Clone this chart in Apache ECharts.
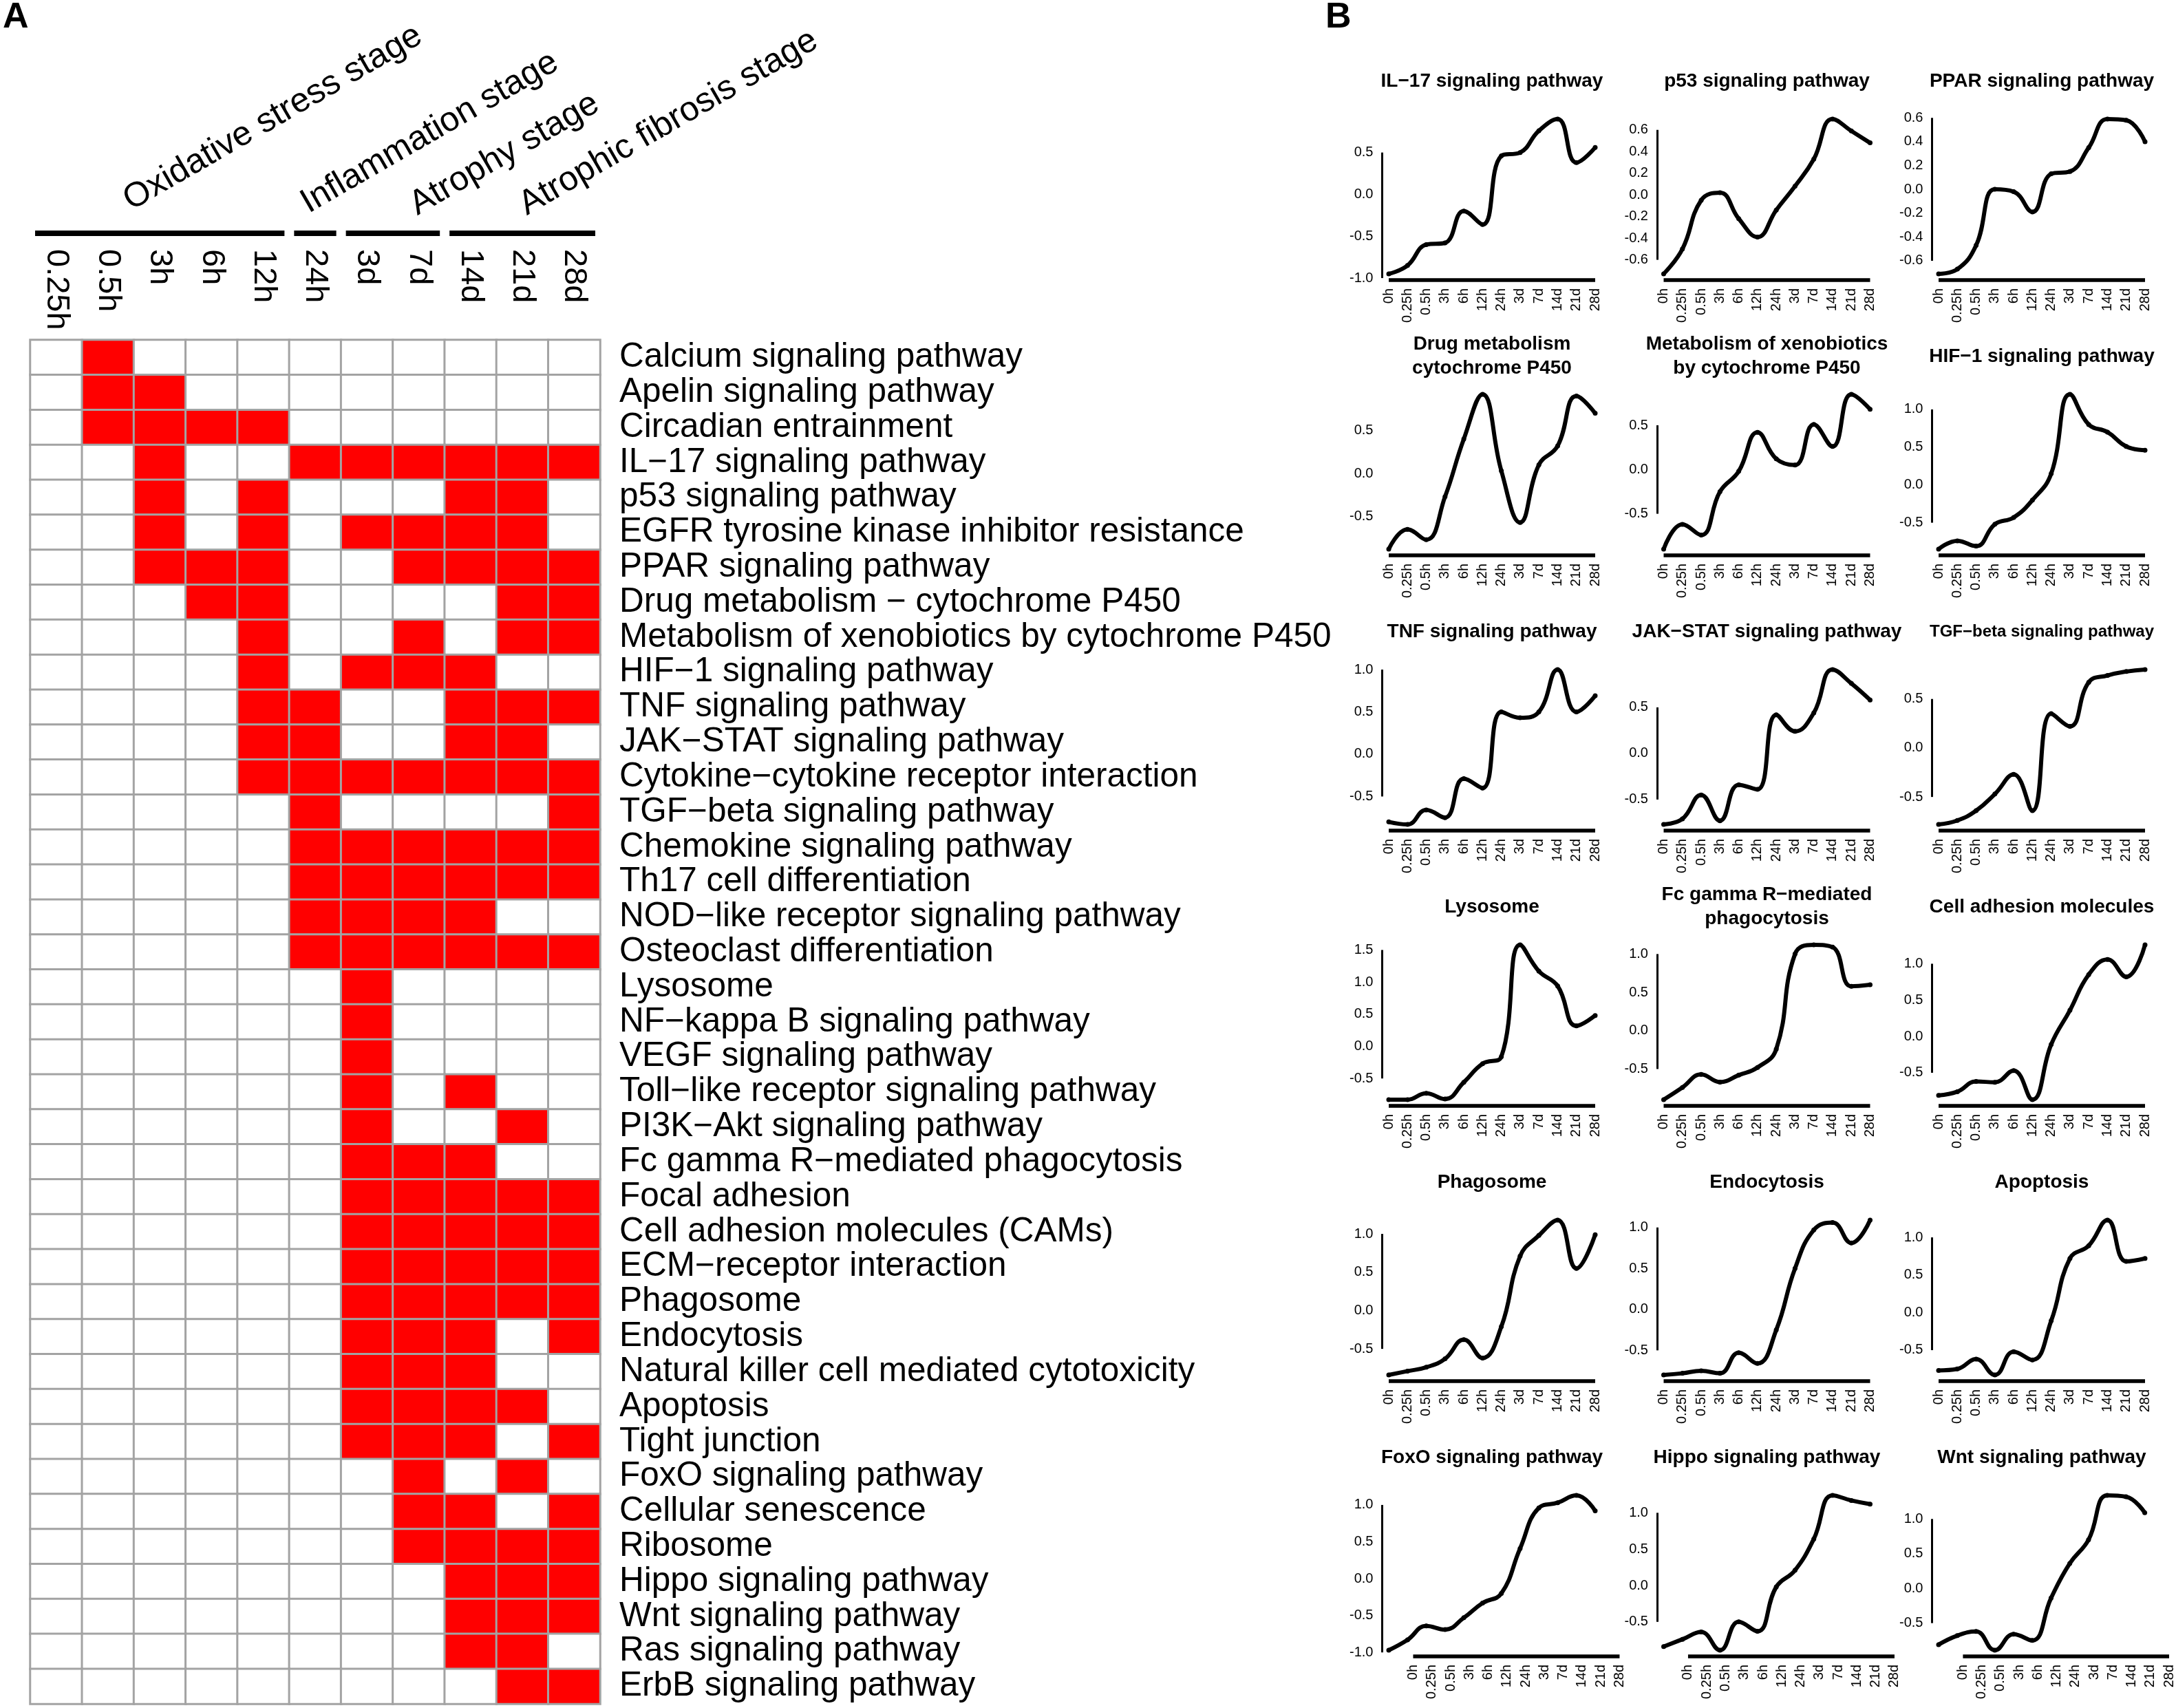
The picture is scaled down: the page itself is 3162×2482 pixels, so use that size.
<!DOCTYPE html>
<html>
<head>
<meta charset="utf-8">
<script src="https://cdn.jsdelivr.net/npm/echarts@6/dist/echarts.min.js"></script>
<style>
html,body{margin:0;padding:0;background:#ffffff;}
#main{width:3162px;height:2482px;}
</style>
</head>
<body>
<div id="main"></div>
<script>
// ---------------- DATA ----------------
// Panel A: heatmap columns (time points) and pathway rows
const timeCols = ['0.25h','0.5h','3h','6h','12h','24h','3d','7d','14d','21d','28d'];
const pathways = [
  'Calcium signaling pathway','Apelin signaling pathway','Circadian entrainment',
  'IL\u221217 signaling pathway','p53 signaling pathway','EGFR tyrosine kinase inhibitor resistance',
  'PPAR signaling pathway','Drug metabolism \u2212 cytochrome P450','Metabolism of xenobiotics by cytochrome P450',
  'HIF\u22121 signaling pathway','TNF signaling pathway','JAK\u2212STAT signaling pathway',
  'Cytokine\u2212cytokine receptor interaction','TGF\u2212beta signaling pathway','Chemokine signaling pathway',
  'Th17 cell differentiation','NOD\u2212like receptor signaling pathway','Osteoclast differentiation',
  'Lysosome','NF\u2212kappa B signaling pathway','VEGF signaling pathway',
  'Toll\u2212like receptor signaling pathway','PI3K\u2212Akt signaling pathway','Fc gamma R\u2212mediated phagocytosis',
  'Focal adhesion','Cell adhesion molecules (CAMs)','ECM\u2212receptor interaction',
  'Phagosome','Endocytosis','Natural killer cell mediated cytotoxicity',
  'Apoptosis','Tight junction','FoxO signaling pathway',
  'Cellular senescence','Ribosome','Hippo signaling pathway',
  'Wnt signaling pathway','Ras signaling pathway','ErbB signaling pathway'
];
// 1 = enriched (red), 0 = not enriched; one row per pathway, columns follow timeCols
const heatRows = [
  [0,1,0,0,0,0,0,0,0,0,0],
  [0,1,1,0,0,0,0,0,0,0,0],
  [0,1,1,1,1,0,0,0,0,0,0],
  [0,0,1,0,0,1,1,1,1,1,1],
  [0,0,1,0,1,0,0,0,1,1,0],
  [0,0,1,0,1,0,1,1,1,1,0],
  [0,0,1,1,1,0,0,1,1,1,1],
  [0,0,0,1,1,0,0,0,0,1,1],
  [0,0,0,0,1,0,0,1,0,1,1],
  [0,0,0,0,1,0,1,1,1,0,0],
  [0,0,0,0,1,1,0,0,1,1,1],
  [0,0,0,0,1,1,0,0,1,1,0],
  [0,0,0,0,1,1,1,1,1,1,1],
  [0,0,0,0,0,1,0,0,0,0,1],
  [0,0,0,0,0,1,1,1,1,1,1],
  [0,0,0,0,0,1,1,1,1,1,1],
  [0,0,0,0,0,1,1,1,1,0,0],
  [0,0,0,0,0,1,1,1,1,1,1],
  [0,0,0,0,0,0,1,0,0,0,0],
  [0,0,0,0,0,0,1,0,0,0,0],
  [0,0,0,0,0,0,1,0,0,0,0],
  [0,0,0,0,0,0,1,0,1,0,0],
  [0,0,0,0,0,0,1,0,0,1,0],
  [0,0,0,0,0,0,1,1,1,0,0],
  [0,0,0,0,0,0,1,1,1,1,1],
  [0,0,0,0,0,0,1,1,1,1,1],
  [0,0,0,0,0,0,1,1,1,1,1],
  [0,0,0,0,0,0,1,1,1,1,1],
  [0,0,0,0,0,0,1,1,1,0,1],
  [0,0,0,0,0,0,1,1,1,0,0],
  [0,0,0,0,0,0,1,1,1,1,0],
  [0,0,0,0,0,0,1,1,1,0,1],
  [0,0,0,0,0,0,0,1,0,1,0],
  [0,0,0,0,0,0,0,1,1,0,1],
  [0,0,0,0,0,0,0,1,1,1,1],
  [0,0,0,0,0,0,0,0,1,1,1],
  [0,0,0,0,0,0,0,0,1,1,1],
  [0,0,0,0,0,0,0,0,1,1,0],
  [0,0,0,0,0,0,0,0,0,1,1]
];
const stageNames = ['Oxidative stress stage','Inflammation stage','Atrophy stage','Atrophic fibrosis stage'];
const stageFirstCol = [0, 5, 6, 8];
const stageLastCol  = [4, 5, 7, 10];

// Panel B: expression trends
const timeLabels = ['0h','0.25h','0.5h','3h','6h','12h','24h','3d','7d','14d','21d','28d'];
const il17  = [-0.95,-0.85,-0.60,-0.58,-0.20,-0.36, 0.46, 0.50, 0.76, 0.90, 0.38, 0.56];
const p53   = [-0.73,-0.50,-0.05, 0.02,-0.22,-0.39,-0.14, 0.08, 0.33, 0.70, 0.59, 0.48];
const ppar  = [-0.71,-0.67,-0.47, 0.00,-0.02,-0.19, 0.13, 0.15, 0.35, 0.59, 0.58, 0.40];
const drug  = [-0.88,-0.65,-0.77,-0.27, 0.40, 0.92, 0.03,-0.57, 0.10, 0.32, 0.90, 0.70];
const xeno  = [-0.90,-0.62,-0.74,-0.25,-0.02, 0.42, 0.12, 0.05, 0.51, 0.26, 0.85, 0.68];
const hif1  = [-0.85,-0.74,-0.81,-0.52,-0.43,-0.20, 0.15, 1.20, 0.80, 0.70, 0.51, 0.46];
const tnf   = [-0.80,-0.83,-0.66,-0.75,-0.29,-0.40, 0.50, 0.43, 0.50, 1.00, 0.50, 0.69];
const jak   = [-0.77,-0.71,-0.45,-0.73,-0.34,-0.39, 0.42, 0.24, 0.44, 0.91, 0.76, 0.58];
const tgf   = [-0.78,-0.74,-0.64,-0.47,-0.27,-0.64, 0.35, 0.22, 0.67, 0.74, 0.78, 0.80];
const lyso  = [-0.83,-0.83,-0.73,-0.82,-0.56,-0.27,-0.16, 1.58, 1.17, 0.94, 0.32, 0.48];
const fcg   = [-0.90,-0.74,-0.57,-0.67,-0.58,-0.48,-0.24, 1.00, 1.12, 1.09, 0.58, 0.60];
const cam   = [-0.81,-0.76,-0.62,-0.63,-0.47,-0.87,-0.11, 0.36, 0.85, 1.06, 0.82, 1.26];
const phago = [-0.84,-0.79,-0.74,-0.63,-0.38,-0.62,-0.21, 0.71, 0.98, 1.18, 0.55, 0.99];
const endo  = [-0.80,-0.78,-0.75,-0.78,-0.53,-0.66,-0.25, 0.50, 0.97, 1.06, 0.81, 1.09];
const apop  = [-0.77,-0.75,-0.62,-0.83,-0.52,-0.63,-0.11, 0.72, 0.89, 1.23, 0.68, 0.72];
const foxo  = [-0.97,-0.83,-0.64,-0.69,-0.53,-0.33,-0.20, 0.41, 0.96, 1.03, 1.13, 0.92];
const hippo = [-0.84,-0.74,-0.64,-0.89,-0.50,-0.63,-0.02, 0.21, 0.64, 1.24, 1.17, 1.12];
const wnt   = [-0.81,-0.68,-0.62,-0.89,-0.66,-0.75,-0.14, 0.36, 0.70, 1.34, 1.32, 1.09];

const panelTitles = [
  'IL\u221217 signaling pathway','p53 signaling pathway','PPAR signaling pathway',
  'Drug metabolism\ncytochrome P450','Metabolism of xenobiotics\nby cytochrome P450','HIF\u22121 signaling pathway',
  'TNF signaling pathway','JAK\u2212STAT signaling pathway','TGF\u2212beta signaling pathway',
  'Lysosome','Fc gamma R\u2212mediated\nphagocytosis','Cell adhesion molecules',
  'Phagosome','Endocytosis','Apoptosis',
  'FoxO signaling pathway','Hippo signaling pathway','Wnt signaling pathway'
];
const panelValues = [il17,p53,ppar,drug,xeno,hif1,tnf,jak,tgf,lyso,fcg,cam,phago,endo,apop,foxo,hippo,wnt];
const ticksA = [-0.6,-0.4,-0.2,0,0.2,0.4,0.6];
const panelTicks = [
  [-1,-0.5,0,0.5], ticksA, ticksA,
  [-0.5,0,0.5,1], [-0.5,0,0.5], [-0.5,0,0.5,1],
  [-0.5,0,0.5,1], [-0.5,0,0.5], [-0.5,0,0.5],
  [-0.5,0,0.5,1,1.5], [-0.5,0,0.5,1], [-0.5,0,0.5,1],
  [-0.5,0,0.5,1], [-0.5,0,0.5,1], [-0.5,0,0.5,1],
  [-1,-0.5,0,0.5,1], [-0.5,0,0.5,1], [-0.5,0,0.5,1]
];

// ---------------- LAYOUT / STYLE ----------------
const FONT = "'Liberation Sans', Arial, Helvetica, sans-serif";
const HM = {left:44, top:494, width:828, height:1982};
const STEP = 300/11;             // px between time points in the small charts
const COLX0 = [2018, 2417.5, 2817];
const ROW_YB0 = 407, ROW_DY = 400, PLOT_H = 243;
const PAD = 0.35;
const AXIS_SHIFT = [0,0,0,0,0,0,0,0,0,0,0,0,0,0,0,1.3,1.3,1.3];
const TITLE_SIZE = [28,28,28,28,28,28,28,28,24,28,28,28,28,28,28,28,28,28];

const chart = echarts.init(document.getElementById('main'), null, {renderer:'canvas', width:3162, height:2482});

const grids = [{left:HM.left, top:HM.top, width:HM.width, height:HM.height}];
const xAxes = [{
  gridIndex:0, type:'category', data:timeCols, position:'top',
  axisLine:{show:false}, axisTick:{show:false}, splitLine:{show:false},
  axisLabel:{interval:0, rotate:90, align:'left', verticalAlign:'middle', margin:132,
    fontSize:47, color:'#000', fontFamily:FONT}
}];
const yAxes = [{
  gridIndex:0, type:'category', data:pathways, inverse:true, position:'right',
  axisLine:{show:false}, axisTick:{show:false}, splitLine:{show:false},
  axisLabel:{interval:0, align:'left', margin:28, fontSize:49.5, color:'#000', fontFamily:FONT}
}];
const heatData = [];
heatRows.forEach((row, r) => row.forEach((v, c) => heatData.push([c, r, v])));
const series = [{
  type:'heatmap', xAxisIndex:0, yAxisIndex:0, data:heatData, silent:true,
  itemStyle:{borderColor:'#a3a3a3', borderWidth:3},
  emphasis:{disabled:true}
}];

const titleGraphics = [];
panelValues.forEach((vals, i) => {
  const c = i % 3, r = Math.floor(i / 3);
  const shift = AXIS_SHIFT[i];
  const yb = ROW_YB0 + ROW_DY * r;
  const dmin = Math.min(...vals), dmax = Math.max(...vals);
  const pad = 0.04 * (dmax - dmin);
  const ymin = dmin - pad, ymax = dmax + pad;
  const ticks = panelTicks[i];
  const gi = i + 1;
  grids.push({left: COLX0[c] - PAD * STEP, top: yb - PLOT_H,
              width: (11 + 2 * PAD + shift) * STEP, height: PLOT_H});
  xAxes.push({
    gridIndex:gi, type:'value', min:-PAD, max:11 + PAD + shift,
    axisLine:{show:false}, axisTick:{show:false}, splitLine:{show:false},
    axisLabel:{
      customValues: timeLabels.map((_, k) => k + shift),
      formatter: v => timeLabels[Math.round(v - shift)] || '',
      rotate:90, fontSize:20, margin:12, color:'#000', fontFamily:FONT
    }
  });
  yAxes.push({
    gridIndex:gi, type:'value', min:ymin, max:ymax,
    axisLine:{show:false}, axisTick:{show:false}, splitLine:{show:false},
    axisLabel:{
      customValues: ticks,
      formatter: v => (Math.abs(v) < 1e-9 ? 0 : v).toFixed(1),
      fontSize:20, margin:13, color:'#000', fontFamily:FONT
    }
  });
  series.push({
    type:'line', xAxisIndex:gi, yAxisIndex:gi,
    data: vals.map((v, k) => [k, v]),
    smooth:0.45, symbol:'circle', symbolSize:7, showSymbol:true,
    lineStyle:{color:'#000', width:6}, itemStyle:{color:'#000'},
    clip:false, silent:true, emphasis:{disabled:true},
    markLine:{
      silent:true, symbol:['none','none'], label:{show:false},
      lineStyle:{color:'#000', type:'solid', width:3},
      emphasis:{disabled:true},
      data:[
        [{coord:[-PAD, ticks[0]], lineStyle:{color:'#000', type:'solid', width:3}},
         {coord:[-PAD, ticks[ticks.length - 1]]}],
        [{coord:[shift, ymin], lineStyle:{color:'#000', type:'solid', width:5.5}},
         {coord:[11 + shift, ymin]}]
      ]
    }
  });
  titleGraphics.push({
    type:'text', x: COLX0[c] + 150, y: yb - 289, silent:true,
    style:{text: panelTitles[i], font:`bold ${TITLE_SIZE[i]}px ${FONT}`,
           textAlign:'center', textVerticalAlign:'middle', fill:'#000', lineHeight:35}
  });
});

chart.setOption({
  animation:false,
  backgroundColor:'#ffffff',
  grid: grids,
  xAxis: xAxes,
  yAxis: yAxes,
  visualMap: {
    type:'piecewise', show:false, seriesIndex:0, dimension:2,
    pieces:[{value:0, color:'#ffffff'}, {value:1, color:'#ff0000'}]
  },
  series: series
});

// Stage bars and rotated stage labels above the heatmap (positions from the heatmap x scale)
const colW = HM.width / timeCols.length;
const stageGraphics = [];
const labelAnchor = [[196, 316], [454, 320], [612, 323], [771, 323]];
stageNames.forEach((name, s) => {
  const x1 = chart.convertToPixel({xAxisIndex:0}, timeCols[stageFirstCol[s]]) - colW / 2 + 7;
  const x2 = chart.convertToPixel({xAxisIndex:0}, timeCols[stageLastCol[s]]) + colW / 2 - 7;
  stageGraphics.push({type:'line', silent:true, shape:{x1:x1, y1:339, x2:x2, y2:339},
    style:{stroke:'#000', lineWidth:8}});
  stageGraphics.push({type:'text', silent:true, x:labelAnchor[s][0], y:labelAnchor[s][1], rotation:Math.PI/6,
    style:{text:name, font:`50px ${FONT}`, textAlign:'left', textVerticalAlign:'bottom', fill:'#000'}});
});

chart.setOption({
  graphic: [
    {type:'text', silent:true, x:4, y:26, style:{text:'A', font:`bold 52px ${FONT}`, textAlign:'left', textVerticalAlign:'middle', fill:'#000'}},
    {type:'text', silent:true, x:1926, y:26, style:{text:'B', font:`bold 52px ${FONT}`, textAlign:'left', textVerticalAlign:'middle', fill:'#000'}}
  ].concat(stageGraphics, titleGraphics)
});
</script>
</body>
</html>
